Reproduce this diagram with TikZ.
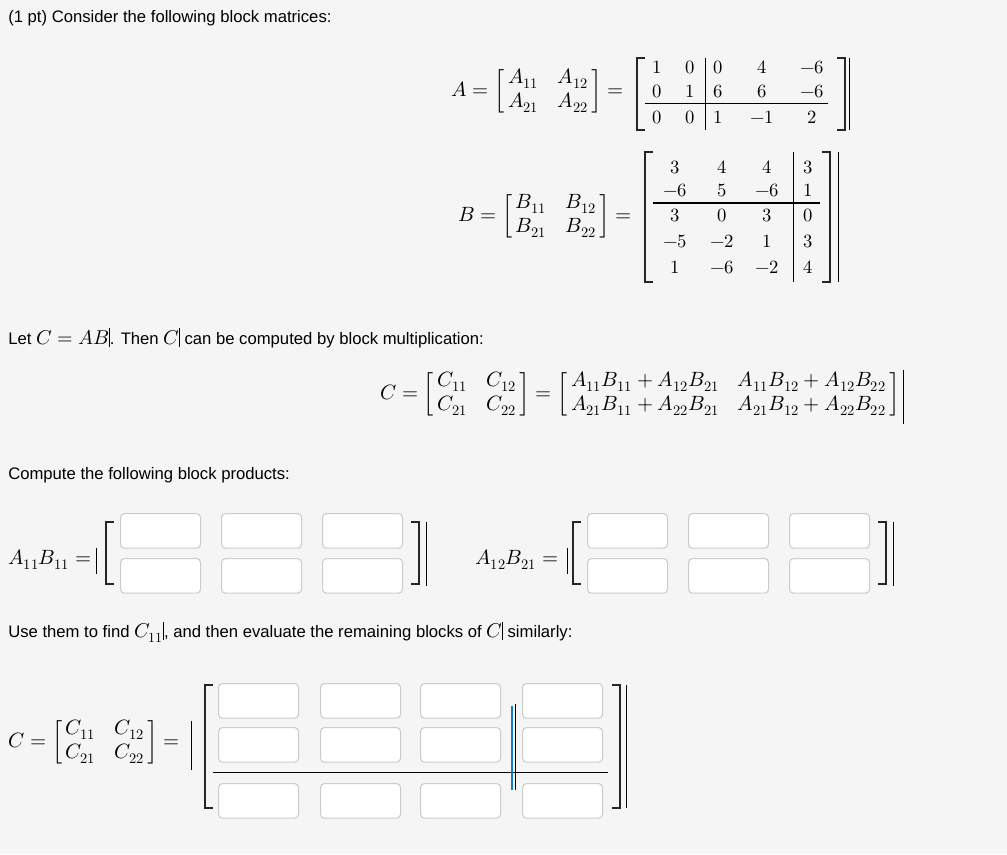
\documentclass[tikz,border=0pt]{standalone}
\usepackage{amsmath}
\usepackage{fontspec}
\setmainfont{Liberation Sans}
\usepackage{unicode-math}
\setmathfont{Latin Modern Math}
\setlength{\arraycolsep}{7pt}
\newcommand\bm[4]{\left[\,\begin{matrix}#1 & #2\\ #3 & #4\end{matrix}\,\right]}
\begin{document}
\begin{tikzpicture}[x=0.75pt,y=-0.75pt,
  txt/.style={anchor=west,inner sep=0,font=\fontsize{12.5}{15}\selectfont},
  mth/.style={inner sep=0,font=\fontsize{15.5}{18}\selectfont},
  ent/.style={inner sep=0,font=\fontsize{14}{16}\selectfont},
  box/.style={draw=black!20,fill=white,rounded corners=3pt,line width=0.8pt},
  brk/.style={line width=1.4pt,black!85},
  bar/.style={line width=0.7pt}]
\fill[black!4] (0,0) rectangle (1007,854);
\useasboundingbox (0,0) rectangle (1007,854);
\newcommand\lbr[3]{\draw[brk] (#1+8,#2)--(#1,#2)--(#1,#3)--(#1+8,#3);}
\newcommand\rbr[3]{\draw[brk] (#1-8,#2)--(#1,#2)--(#1,#3)--(#1-8,#3);}
% title
\node[txt] (t1) at (8,18) {(1 pt) Consider the following block matrices:};
% A
\node[mth,anchor=east] (Aeq) at (624,91) {$A=\bm{A_{11}}{A_{12}}{A_{21}}{A_{22}}=$};
\lbr{637}{58}{130}\rbr{845}{58}{130}\draw[bar] (849,58)--(849,130);
\foreach \v/\x/\y [count=\i] in {1/657/67,0/690/67,0/718/67,4/762/67,-6/812/67,
  0/657/91,1/690/91,6/718/91,6/762/91,-6/812/91,
  0/657/117,0/690/117,1/718/117,-1/762/117,2/812/117}
  \node[ent] (a\i) at (\x,\y) {$\v$};
\draw[bar] (705,58)--(705,130);
\draw[bar] (645,103)--(828,103);
% B
\node[mth,anchor=east] (Beq) at (632,216) {$B=\bm{B_{11}}{B_{12}}{B_{21}}{B_{22}}=$};
\lbr{645}{152}{282}\rbr{830}{152}{282}\draw[bar] (838,152)--(838,282);
\foreach \v/\x/\y [count=\i] in {3/675/167,4/722/167,4/767/167,3/808/167,
  -6/675/190,5/722/190,-6/767/190,1/808/190,
  3/675/215,0/722/215,3/767/215,0/808/215,
  -5/675/241,-2/722/241,1/767/241,3/808/241,
  1/675/267,-6/722/267,-2/767/267,4/808/267}
  \node[ent] (b\i) at (\x,\y) {$\v$};
\draw[bar] (793,152)--(793,282);
\draw[line width=1pt] (653,203)--(820,203);
% Let C
\node[txt] (t2) at (8,338) {Let {\fontsize{15}{16}\selectfont$C=AB$}\rule[-2pt]{0.6pt}{14pt}. Then {\fontsize{15}{16}\selectfont$C$}\rule[-2pt]{0.6pt}{14pt} can be computed by block multiplication:};
\node[mth,anchor=east] (Ceq) at (552,394) {$C=\bm{C_{11}}{C_{12}}{C_{21}}{C_{22}}=$};
\node[mth,anchor=west] (Cprod) at (557,394) {$\bm{A_{11}B_{11}+A_{12}B_{21}}{A_{11}B_{12}+A_{12}B_{22}}{A_{21}B_{11}+A_{22}B_{21}}{A_{21}B_{12}+A_{22}B_{22}}$};
\draw[bar] (Cprod.north east)++(3,0) -- ++(0,54);
\node[txt] (t3) at (8,475) {Compute the following block products:};
% A11B11
\node[mth,anchor=west] (p1) at (8,560) {$A_{11}B_{11}=$};
\draw[bar] (96,548)--(96,574);
\lbr{106}{522}{584}\rbr{419}{522}{584}\draw[bar] (426,522)--(426,586);
\foreach \x [count=\i] in {120,221,322}{
  \node[box,minimum width=60pt,minimum height=26pt,anchor=north west] (u\i) at (\x,513) {};
  \node[box,minimum width=60pt,minimum height=26pt,anchor=north west] (v\i) at (\x,558) {};}
% A12B21
\node[mth,anchor=west] (p2) at (475,560) {$A_{12}B_{21}=$};
\draw[bar] (567,548)--(567,574);
\lbr{573}{522}{584}\rbr{886}{522}{584}\draw[bar] (893,522)--(893,586);
\foreach \x [count=\i] in {587,688,789}{
  \node[box,minimum width=60pt,minimum height=26pt,anchor=north west] (w\i) at (\x,513) {};
  \node[box,minimum width=60pt,minimum height=26pt,anchor=north west] (z\i) at (\x,558) {};}
\node[txt] (t4) at (8,632) {Use them to find {\fontsize{15}{16}\selectfont$C_{11}$}\rule[-2pt]{0.6pt}{14pt}, and then evaluate the remaining blocks of {\fontsize{15}{16}\selectfont$C$}\rule[-2pt]{0.6pt}{14pt} similarly:};
% C final
\node[mth,anchor=west] (Cf) at (8,742) {$C=\bm{C_{11}}{C_{12}}{C_{21}}{C_{22}}=$};
\draw[bar] (191,721)--(191,770);
\lbr{205}{685}{808}\rbr{620}{685}{808}\draw[bar] (626,685)--(626,808);
\foreach \x [count=\i] in {218,320,420,522}{
  \node[box,minimum width=60pt,minimum height=26pt,anchor=north west] (c\i) at (\x,683) {};
  \node[box,minimum width=60pt,minimum height=26pt,anchor=north west] (d\i) at (\x,727) {};
  \node[box,minimum width=60pt,minimum height=26pt,anchor=north west] (e\i) at (\x,783) {};}
\draw[bar] (213,772)--(608,772);
\draw[line width=1pt,cyan!60!blue] (512,706)--(512,790);
\draw[bar] (515,704)--(515,790);
\end{tikzpicture}
\end{document}
